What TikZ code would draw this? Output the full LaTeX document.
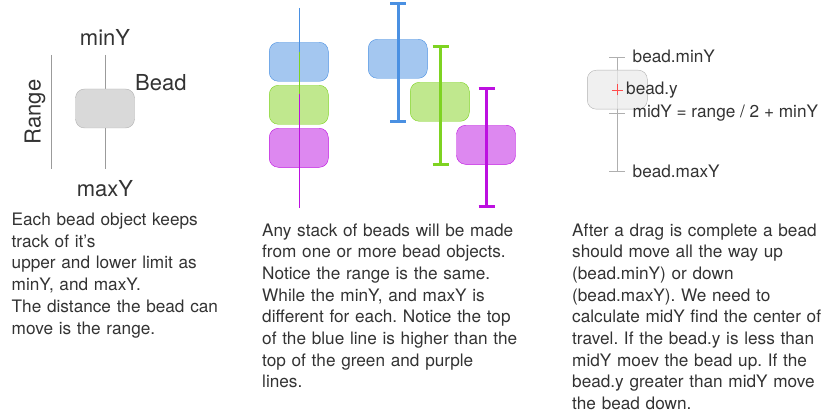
\documentclass[tikz,border=0pt]{standalone}
\usepackage{fontspec}
\setmainfont{TeX Gyre Heros}
\frenchspacing
\definecolor{txt}{HTML}{333333}
\definecolor{glin}{HTML}{9B9B9B}
\definecolor{bluB}{HTML}{4A90E2}
\definecolor{bluF}{HTML}{A4C7F0}
\definecolor{grnB}{HTML}{7ED321}
\definecolor{grnF}{HTML}{C0E88E}
\definecolor{purB}{HTML}{BD10E0}
\definecolor{purF}{HTML}{DD88F0}
\begin{document}
\begin{tikzpicture}[x=1pt,y=-1pt,
  lbl/.style={text=txt,font=\fontsize{22}{26}\selectfont,inner sep=0pt},
  sml/.style={text=txt,font=\fontsize{17.2}{21}\selectfont,inner sep=0pt,anchor=west},
  para/.style={text=txt,font=\fontsize{17.2}{21.7}\selectfont\frenchspacing,inner sep=0pt,anchor=base west,align=left,text width=#1},
  bead/.style={draw=#1,rounded corners=9pt,minimum width=59pt,minimum height=39pt,inner sep=0pt},
  bar/.style={line width=3pt,draw=#1},
  cap/.style={line width=3pt,draw=#1},
]
\useasboundingbox (0,0) rectangle (824,417);

% ---------- left panel ----------
\coordinate (rT) at (51,55);
\coordinate (rB) at (51,169);
\draw[glin,line width=0.8pt] (rT) -- (rB);
\coordinate (lT) at (105.5,55);
\coordinate (lB) at (105.5,169);
\draw[glin,line width=0.8pt] (lT) -- (lB);
\node[bead=black!30,fill=black!15] (b0) at (105,108.5) {};
\node[lbl] (minY) at (105,37) {minY};
\node[lbl] (maxY) at (105,189) {maxY};
\node[lbl,anchor=west] (beadlbl) at (135,83) {Bead};
\node[lbl,rotate=90] (range) at (35,112) {Range};

\node[para=240pt] (t1) at (11.5,225.5) {Each bead object keeps\\track of it’s\\upper and lower limit as\\minY, and maxY.\\The distance the bead can\\move is the range.};

% ---------- middle panel ----------
\node[bead=bluB,fill=bluF] (s1) at (298.8,61.8) {};
\node[bead=grnB,fill=grnF] (s2) at (298.8,104.8) {};
\node[bead=purB,fill=purF] (s3) at (298.8,147.8) {};
\coordinate (v1) at (299.3,8);
\coordinate (v2) at (299.3,52);
\coordinate (v3) at (299.3,94);
\coordinate (v4) at (299.3,208);
\draw[bluB,line width=0.9pt] (v1) -- (v2);
\draw[grnB,line width=0.9pt] (v2) -- (v3);
\draw[purB,line width=0.9pt] (v3) -- (v4);

\node[bead=bluB,fill=bluF] (r1) at (397.8,58.8) {};
\node[bead=grnB,fill=grnF] (r2) at (439.8,101.8) {};
\node[bead=purB,fill=purF] (r3) at (486,144.8) {};
\coordinate (bt) at (398,3.5);
\coordinate (bb) at (398,121.3);
\draw[bar=bluB] (bt) -- (bb);
\draw[cap=bluB] ([xshift=-8pt]bt) -- ([xshift=8pt]bt);
\draw[cap=bluB] ([xshift=-8pt]bb) -- ([xshift=8pt]bb);
\coordinate (gt) at (440.7,46.3);
\coordinate (gb) at (440.7,164.3);
\draw[bar=grnB] (gt) -- (gb);
\draw[cap=grnB] ([xshift=-8pt]gt) -- ([xshift=8pt]gt);
\draw[cap=grnB] ([xshift=-8pt]gb) -- ([xshift=8pt]gb);
\coordinate (pt) at (486.7,88.5);
\coordinate (pb) at (486.7,206.3);
\draw[bar=purB] (pt) -- (pb);
\draw[cap=purB] ([xshift=-8pt]pt) -- ([xshift=8pt]pt);
\draw[cap=purB] ([xshift=-8pt]pb) -- ([xshift=8pt]pb);

\node[para=290pt] (t2) at (262,236) {Any stack of beads will be made\\from one or more bead objects.\\Notice the range is the same.\\While the minY, and maxY is\\different for each. Notice the top\\of the blue line is higher than the\\top of the green and purple\\lines.};

% ---------- right panel ----------
\coordinate (gT) at (617.3,57.7);
\coordinate (gM) at (617.3,113.7);
\coordinate (gB) at (617.3,171);
\draw[glin!80,line width=0.9pt] (gT) -- (gB);
\foreach \c in {gT,gM,gB}{\draw[glin!80,line width=0.9pt] ([xshift=-8pt]\c) -- ([xshift=8pt]\c);}
\node[bead=black!30,fill=black!8,fill opacity=0.75,minimum width=60pt] (b3) at (617.3,89.7) {};
\coordinate (py) at (617.3,90);
\draw[red!70,line width=0.8pt] ([xshift=-5.5pt]py) -- ([xshift=5.5pt]py) ([yshift=-5.5pt]py) -- ([yshift=5.5pt]py);
\node[sml] (n1) at (632.5,56.5) {bead.minY};
\node[sml] (n2) at (626,90) {bead.y};
\node[sml] (n3) at (632.5,113.5) {midY = range / 2 + minY};
\node[sml] (n4) at (632.5,171) {bead.maxY};

\node[para=260pt] (t3) at (572,236) {After a drag is complete a bead\\should move all the way up\\(bead.minY) or down\\(bead.maxY). We need to\\calculate midY find the center of\\travel. If the bead.y is less than\\midY moev the bead up. If the\\bead.y greater than midY move\\the bead down.};
\end{tikzpicture}
\end{document}
